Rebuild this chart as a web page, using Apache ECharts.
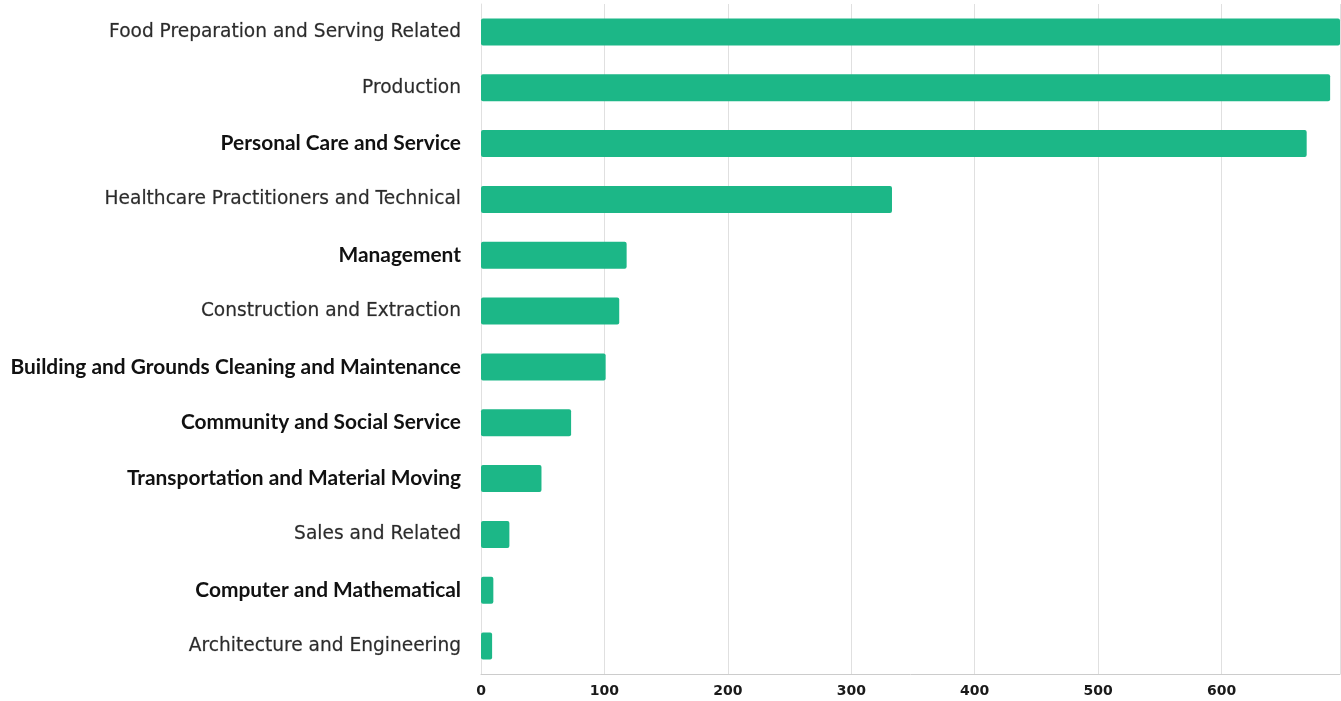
<!DOCTYPE html>
<html>
<head>
<meta charset="utf-8">
<script src="https://cdn.jsdelivr.net/npm/echarts@6/dist/echarts.min.js"></script>
<style>
  html, body { margin: 0; padding: 0; background: #fff; }
  #chart { width: 1341px; height: 701px; }
</style>
</head>
<body>
<div id="chart"></div>
<script>
// Occupation categories, top to bottom
const categories = [
  'Food Preparation and Serving Related',
  'Production',
  'Personal Care and Service',
  'Healthcare Practitioners and Technical',
  'Management',
  'Construction and Extraction',
  'Building and Grounds Cleaning and Maintenance',
  'Community and Social Service',
  'Transportation and Material Moving',
  'Sales and Related',
  'Computer and Mathematical',
  'Architecture and Engineering'
];

// Count per occupation category
const values = [696, 688, 669, 333, 118, 112, 101, 73, 49, 23, 10, 9];

// Value-axis tick step
const tickStep = 100;

// Categories whose label is set in the heavier, tighter face
const heavyLabels = new Set([
  'Personal Care and Service',
  'Management',
  'Building and Grounds Cleaning and Maintenance',
  'Community and Social Service',
  'Transportation and Material Moving',
  'Computer and Mathematical'
]);

const chart = echarts.init(document.getElementById('chart'));

chart.setOption({
  animation: false,
  backgroundColor: '#ffffff',
  grid: { left: 481, right: 1, top: 4, bottom: 27, containLabel: false },
  xAxis: {
    type: 'value',
    min: 0,
    max: 'dataMax',
    interval: tickStep,
    axisLine: { show: true, lineStyle: { color: '#cccccc', width: 1 } },
    axisTick: { show: false },
    splitLine: { show: true, lineStyle: { color: '#e0e0e0', width: 1 } },
    axisLabel: {
      show: true,
      margin: 10,
      color: '#1a1a1a',
      fontFamily: 'DejaVu Sans',
      fontWeight: 'bold',
      fontSize: 14,
      showMaxLabel: false
    }
  },
  yAxis: {
    type: 'category',
    data: categories,
    inverse: true,
    axisLine: { show: true, lineStyle: { color: '#e0e0e0' } },
    axisTick: { show: false },
    axisLabel: {
      margin: 20,
      formatter: (name) => heavyLabels.has(name) ? '{b|' + name + '}' : '{a|' + name + '}',
      rich: {
        a: { fontFamily: 'DejaVu Sans', fontSize: 18.6, color: '#2b2b2b', textBorderColor: 'rgba(43,43,43,0.4)', textBorderWidth: 0.5 },
        b: { fontFamily: 'Lato', fontWeight: 'bold', fontSize: 20.9, color: '#111111' }
      }
    }
  },
  series: [{
    type: 'bar',
    data: values,
    barWidth: 27,
    itemStyle: { color: '#1cb787', borderRadius: 2 }
  }]
});
</script>
</body>
</html>
